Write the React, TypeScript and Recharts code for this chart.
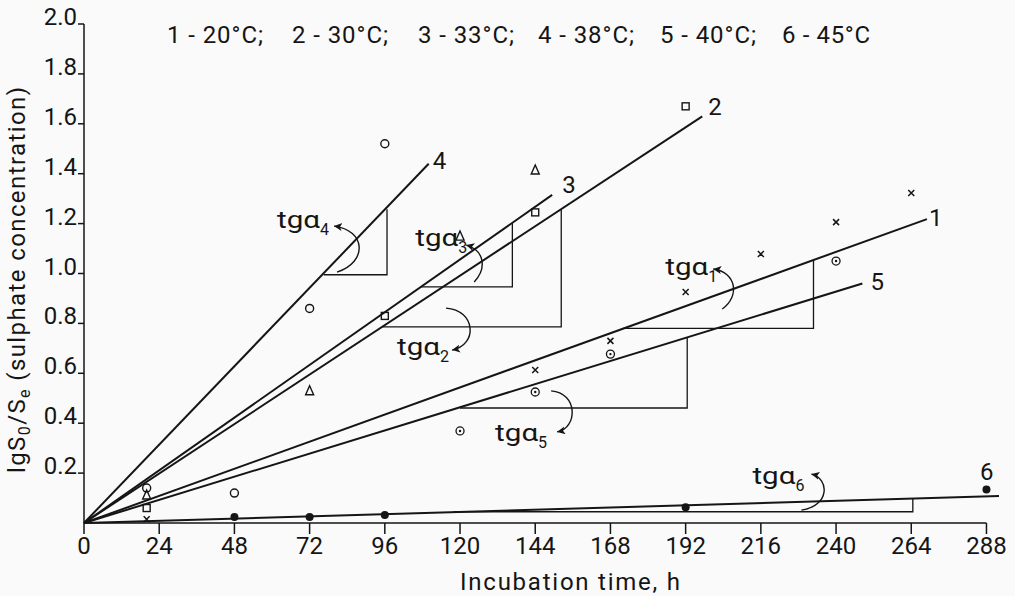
import {
  ComposedChart,
  Customized,
  Line,
  ReferenceDot,
  ReferenceLine,
  Scatter,
  XAxis,
  YAxis,
} from "recharts";

const FONT = "Roboto, 'Liberation Sans', sans-serif";
const INK = "#151515";

// axis ticks
const hourTicks = [0, 24, 48, 72, 96, 120, 144, 168, 192, 216, 240, 264, 288];
const concTicks = [0.2, 0.4, 0.6, 0.8, 1.0, 1.2, 1.4, 1.6, 1.8, 2.0];

const legendItems = ["1 - 20°C;", "2 - 30°C;", "3 - 33°C;", "4 - 38°C;", "5 - 40°C;", "6 - 45°C"];
const legendX = [167, 292, 418, 538, 660, 782];

// measured points (h, lg S0/Se)
const pts1 = [
  { x: 20, y: 0.015 },
  { x: 144, y: 0.613 },
  { x: 168, y: 0.73 },
  { x: 192, y: 0.926 },
  { x: 216, y: 1.078 },
  { x: 240, y: 1.206 },
  { x: 264, y: 1.323 },
];
const pts2 = [
  { x: 20, y: 0.06 },
  { x: 96, y: 0.83 },
  { x: 144, y: 1.245 },
  { x: 192, y: 1.67 },
];
const pts3 = [
  { x: 20, y: 0.112 },
  { x: 72, y: 0.53 },
  { x: 120, y: 1.15 },
  { x: 144, y: 1.415 },
];
const pts4 = [
  { x: 20, y: 0.14 },
  { x: 48, y: 0.12 },
  { x: 72, y: 0.86 },
  { x: 96, y: 1.52 },
];
const pts5 = [
  { x: 120, y: 0.369 },
  { x: 144, y: 0.525 },
  { x: 168, y: 0.677 },
  { x: 240, y: 1.05 },
];
const pts6 = [
  { x: 48, y: 0.024 },
  { x: 72, y: 0.024 },
  { x: 96, y: 0.032 },
  { x: 192, y: 0.063 },
  { x: 288, y: 0.134 },
];

// fitted lines through the origin
const fit1 = [{ x: 0, y: 0 }, { x: 269, y: 1.218 }];
const fit2 = [{ x: 0, y: 0 }, { x: 197.3, y: 1.63 }];
const fit3 = [{ x: 0, y: 0 }, { x: 149.4, y: 1.315 }];
const fit4 = [{ x: 0, y: 0 }, { x: 110, y: 1.44 }];
const fit5 = [{ x: 0, y: 0 }, { x: 248.4, y: 0.96 }];
const fit6 = [{ x: 0, y: 0 }, { x: 292, y: 0.108 }];

// slope construction triangles
const tri1 = [{ x: 172, y: 0.78 }, { x: 232.8, y: 0.78 }, { x: 232.8, y: 1.054 }];
const tri2 = [{ x: 95.2, y: 0.786 }, { x: 152.3, y: 0.786 }, { x: 152.3, y: 1.258 }];
const tri3 = [{ x: 107.5, y: 0.946 }, { x: 136.7, y: 0.946 }, { x: 136.7, y: 1.202 }];
const tri4 = [{ x: 76.5, y: 0.995 }, { x: 96.7, y: 0.995 }, { x: 96.7, y: 1.258 }];
const tri5 = [{ x: 120, y: 0.461 }, { x: 192.5, y: 0.461 }, { x: 192.5, y: 0.741 }];
const tri6 = [{ x: 118, y: 0.045 }, { x: 264.5, y: 0.045 }, { x: 264.5, y: 0.098 }];

// tg alpha annotations, anchored in data units
const tgAnchors = [
  { x: 61.6, y: 1.182, sub: "4" },
  { x: 105.7, y: 1.11, sub: "3" },
  { x: 99.9, y: 0.673, sub: "2" },
  { x: 131.2, y: 0.329, sub: "5" },
  { x: 185.5, y: 0.994, sub: "1" },
  { x: 213.3, y: 0.156, sub: "6" },
];
// arrow curves in px relative to the label anchor
const tgArrows = [
  "M 60 44 C 91 34, 89 2, 57 -2",
  "M 59 36 C 72 22, 69 4, 51 -1",
  "M 49 -47 C 79 -45, 81 -10, 55 -5",
  "M 56 -50 C 83 -48, 83 -13, 62 -9",
  "M 57 34 C 75 21, 71 -3, 48 -6",
  "M 49 26 C 78 22, 77 -6, 59 -10",
];

const endLabel = (text: string, last: number, dx: number, dy: number) => (p: any) =>
  p.index === last ? (
    <text x={p.x + dx} y={p.y + dy} fontSize={24} fontFamily={FONT} fill={INK}>
      {text}
    </text>
  ) : (
    <g />
  );

const OpenCircle = ({ cx, cy }: any) => (
  <circle cx={cx} cy={cy} r={4} fill="none" stroke={INK} strokeWidth={1.4} />
);
const OpenSquare = ({ cx, cy }: any) => (
  <rect x={cx - 3.5} y={cy - 3.5} width={7} height={7} fill="none" stroke={INK} strokeWidth={1.4} />
);
const OpenTriangle = ({ cx, cy }: any) => (
  <path
    d={`M ${cx} ${cy - 5} L ${cx + 4} ${cy + 4} L ${cx - 4} ${cy + 4} Z`}
    fill="none"
    stroke={INK}
    strokeWidth={1.4}
  />
);
const Cross = ({ cx, cy }: any) => (
  <path
    d={`M ${cx - 3} ${cy - 3} L ${cx + 3} ${cy + 3} M ${cx + 3} ${cy - 3} L ${cx - 3} ${cy + 3}`}
    stroke={INK}
    strokeWidth={1.5}
  />
);
const DotCircle = ({ cx, cy }: any) => (
  <g>
    <circle cx={cx} cy={cy} r={4} fill="none" stroke={INK} strokeWidth={1.3} />
    <circle cx={cx} cy={cy} r={1.2} fill={INK} />
  </g>
);
const FilledDot = ({ cx, cy }: any) => <circle cx={cx} cy={cy} r={4} fill={INK} />;

const YTick = ({ x, y, payload }: any) => (
  <text x={x} y={y + 1} textAnchor="end" fontSize={24} fontFamily={FONT} fill={INK}>
    {Number(payload.value).toFixed(1)}
  </text>
);

const TgLabel = ({ cx, cy, sub, arrow }: any) => (
  <g transform={`translate(${cx},${cy})`} fontFamily={FONT} fill={INK}>
    <text x={0} y={0} fontSize={23} textLength={43} lengthAdjust="spacingAndGlyphs">
      tgα
    </text>
    <text x={43} y={7} fontSize={16}>
      {sub}
    </text>
    <path d={arrow} fill="none" stroke={INK} strokeWidth={1.4} markerEnd="url(#arrowHead)" />
  </g>
);

const StaticText = () => (
  <g fontFamily={FONT} fill={INK}>
    <defs>
      <marker
        id="arrowHead"
        markerUnits="userSpaceOnUse"
        markerWidth={10}
        markerHeight={10}
        refX={8}
        refY={4}
        orient="auto"
      >
        <path d="M 0 0 L 8 4 L 0 8 L 2 4 Z" fill={INK} />
      </marker>
    </defs>
    {legendItems.map((s, i) => (
      <text key={s} x={legendX[i]} y={43} fontSize={24} textLength={i === 5 ? 88 : 96} lengthAdjust="spacing">
        {s}
      </text>
    ))}
    <text
      transform="rotate(-90)"
      x={-280}
      y={25}
      fontSize={24}
      textAnchor="middle"
      textLength={386}
      lengthAdjust="spacing"
    >
      lgS
      <tspan dy={5} fontSize={16}>
        0
      </tspan>
      <tspan dy={-5}>/S</tspan>
      <tspan dy={5} fontSize={16}>
        e
      </tspan>
      <tspan dy={-5}> (sulphate concentration)</tspan>
    </text>
    <text x={570} y={590} fontSize={24} textAnchor="middle" textLength={220} lengthAdjust="spacing">
      Incubation time, h
    </text>
  </g>
);

const fits = [
  { data: fit1, label: "1", dx: 2, dy: 7 },
  { data: fit2, label: "2", dx: 6, dy: -1 },
  { data: fit3, label: "3", dx: 10, dy: -2 },
  { data: fit4, label: "4", dx: 4, dy: 5 },
  { data: fit5, label: "5", dx: 8, dy: 7 },
  { data: fit6, label: "6", dx: -19, dy: -16 },
];
const triangles = [tri1, tri2, tri3, tri4, tri5, tri6];
const pointSets = [
  { data: pts1, shape: Cross },
  { data: pts2, shape: OpenSquare },
  { data: pts3, shape: OpenTriangle },
  { data: pts4, shape: OpenCircle },
  { data: pts5, shape: DotCircle },
  { data: pts6, shape: FilledDot },
];

export default function App() {
  return (
    <div style={{ position: "fixed", left: 0, top: 0, background: "#fafafa" }}>
      <ComposedChart width={1015} height={596} margin={{ top: 24, right: 16, bottom: 0, left: 0 }}>
        <XAxis
          type="number"
          dataKey="x"
          domain={[0, 292]}
          ticks={hourTicks}
          interval={0}
          axisLine={false}
          tickLine={{ stroke: INK, strokeWidth: 1.5 }}
          tickSize={11}
          tickMargin={3}
          height={73}
          tick={{ fontSize: 24, fill: INK, fontFamily: FONT }}
        />
        <YAxis
          type="number"
          dataKey="y"
          domain={[0, 2]}
          ticks={concTicks}
          interval={0}
          width={84}
          tickSize={6}
          tickMargin={1}
          axisLine={{ stroke: INK, strokeWidth: 1.5 }}
          tickLine={{ stroke: INK, strokeWidth: 1.5 }}
          tick={<YTick />}
        />
        <ReferenceLine
          segment={[
            { x: 0, y: 0 },
            { x: 288, y: 0 },
          ]}
          stroke={INK}
          strokeWidth={1.5}
        />
        {triangles.map((t, i) => (
          <Line
            key={`tri${i}`}
            data={t}
            dataKey="y"
            type="linear"
            stroke={INK}
            strokeWidth={1.3}
            dot={false}
            activeDot={false}
            isAnimationActive={false}
          />
        ))}
        {fits.map((f) => (
          <Line
            key={`fit${f.label}`}
            data={f.data}
            dataKey="y"
            type="linear"
            stroke={INK}
            strokeWidth={2}
            dot={false}
            activeDot={false}
            isAnimationActive={false}
            label={endLabel(f.label, f.data.length - 1, f.dx, f.dy)}
          />
        ))}
        {pointSets.map((s, i) => (
          <Scatter key={`pts${i}`} data={s.data} dataKey="y" shape={s.shape} isAnimationActive={false} />
        ))}
        {tgAnchors.map((a, i) => (
          <ReferenceDot
            key={`tg${a.sub}`}
            x={a.x}
            y={a.y}
            r={0}
            shape={(p: any) => <TgLabel cx={p.cx} cy={p.cy} sub={a.sub} arrow={tgArrows[i]} />}
          />
        ))}
        <Customized component={StaticText} />
      </ComposedChart>
    </div>
  );
}
